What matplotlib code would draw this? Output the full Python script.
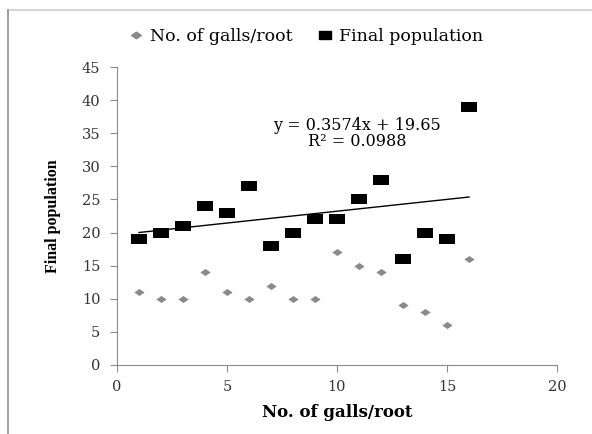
import numpy as np
import matplotlib
matplotlib.use("Agg")
import matplotlib.pyplot as plt
from matplotlib.lines import Line2D

x_obs = [1, 2, 3, 4, 5, 6, 7, 8, 9, 10, 11, 12, 13, 14, 15, 16]
galls = [11, 10, 10, 14, 11, 10, 12, 10, 10, 17, 15, 14, 9, 8, 6, 16]
final_pop = [19, 20, 21, 24, 23, 27, 18, 20, 22, 22, 25, 28, 16, 20, 19, 39]
x_ticks = [0, 5, 10, 15, 20]
y_ticks = [0, 5, 10, 15, 20, 25, 30, 35, 40, 45]

# wide serif looks closer to the stretched source text
plt.rcParams['font.family'] = ['DejaVu Serif']

# excel-ish squashed markers
rect = [(-1.4, -1), (1.4, -1), (1.4, 1), (-1.4, 1), (-1.4, -1)]
diam = [(0, -1), (1.45, 0), (0, 1), (-1.45, 0), (0, -1)]

fig = plt.figure(figsize=(5.92, 4.34), dpi=100)
ax = fig.add_axes([0.1976, 0.159, 0.7433, 0.6866])

ax.scatter(x_obs, galls, marker=diam, s=55, color='#8a8a8a', linewidths=0, zorder=3)
ax.scatter(x_obs, final_pop, marker=rect, s=120, color='black', linewidths=0, zorder=3)

slope, icpt = np.polyfit(x_obs, final_pop, 1)
xs = np.array([min(x_obs), max(x_obs)])
ax.plot(xs, slope * xs + icpt, color='black', lw=1.0, zorder=2)
r2 = np.corrcoef(x_obs, final_pop)[0, 1] ** 2
ax.text(10.9, 36.2, f"y = {slope:.4f}x + {icpt:.2f}", ha='center', va='center', fontsize=11.5)
ax.text(10.9, 33.8, f"R² = {r2:.4f}", ha='center', va='center', fontsize=11.5)

ax.set_xlim(0, 20)
ax.set_ylim(0, 45)
ax.set_xticks(x_ticks)
ax.set_yticks(y_ticks)
for s in ['top', 'right']:
    ax.spines[s].set_visible(False)
for s in ['left', 'bottom']:
    ax.spines[s].set_color('#8c8c8c')
ax.tick_params(colors='#8c8c8c', labelcolor='#333333', labelsize=10.5, length=5, direction='out')
ax.tick_params(axis='x', pad=6)
ax.tick_params(axis='y', pad=7)

ax.set_xlabel('No. of galls/root', fontsize=12, fontweight='bold', labelpad=7)
ax.set_ylabel('Final population', fontsize=11.5, fontweight='bold', labelpad=15,
              family='Liberation Serif')

handles = [
    Line2D([], [], marker=diam, color='#8a8a8a', ls='none', markersize=7),
    Line2D([], [], marker=rect, color='black', ls='none', markersize=9),
]
fig.legend(handles, ['No. of galls/root', 'Final population'], loc='center',
           bbox_to_anchor=(0.516, 0.915), ncol=2, frameon=False, fontsize=12.5,
           handletextpad=0.3, columnspacing=1.4, handlelength=1.0)

# outer frame lines (top and left) like the cropped source image
fig.add_artist(Line2D([8 / 592, 1], [1 - 10 / 434, 1 - 10 / 434], color='#d0d0d0', lw=1.2))
fig.add_artist(Line2D([8 / 592, 8 / 592], [0, 1 - 10 / 434], color='#909090', lw=1.2))

fig.savefig('out.png', dpi=100)
